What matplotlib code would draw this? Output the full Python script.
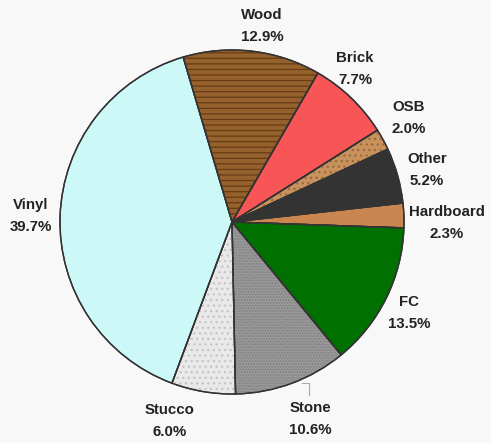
import matplotlib
matplotlib.use("Agg")
import matplotlib.pyplot as plt

categories = ["Wood", "Brick", "OSB", "Other", "Hardboard", "FC", "Stone", "Stucco", "Vinyl"]
values = [12.9, 7.7, 2.0, 5.2, 2.3, 13.5, 10.6, 6.0, 39.7]
colors = ["#95612d", "#f85656", "#c8925e", "#333333", "#c98650", "#007000", "#9a9a9a", "#e9e9e9", "#ccf8f8"]
hatches = ["---", None, "...", None, None, None, "......", "...", None]
hatch_colors = ["#673c15", None, "#9a6a3c", None, None, None, "#808080", "#c4c4c4", None]
# label anchor positions in pixels (center of two-line label)
label_px = [(262, 26), (355, 69), (409, 118), (427, 170), (447, 223), (409, 313), (310, 419), (170, 421), (31, 216)]

W, H = 491, 443
cx, cy, r = 232, 222, 172
bg = "#f8f8f8"

plt.rcParams["hatch.linewidth"] = 0.9

fig = plt.figure(figsize=(W / 100, H / 100), dpi=100, facecolor=bg)
ax = fig.add_axes([(cx - r) / W, (H - cy - r) / H, 2 * r / W, 2 * r / H])
ax.set_facecolor(bg)

start = 106.5
wedges, _ = ax.pie(values, colors=colors, startangle=start, counterclock=False, radius=1,
                   wedgeprops=dict(edgecolor="#333333", linewidth=1.0))

# texture overlays
wedges2, _ = ax.pie(values, colors=["none"] * len(values), startangle=start, counterclock=False, radius=1,
                    wedgeprops=dict(linewidth=0))
for w, h, hc in zip(wedges2, hatches, hatch_colors):
    if h:
        w.set_hatch(h)
        w.set_edgecolor(hc)
        w.set_linewidth(0)
    else:
        w.set_visible(False)

# outline on top
wedges3, _ = ax.pie(values, colors=["none"] * len(values), startangle=start, counterclock=False, radius=1,
                    wedgeprops=dict(edgecolor="#333333", linewidth=1.0, fill=False))

ax.set_xlim(-1, 1)
ax.set_ylim(-1, 1)
ax.set_aspect("equal", adjustable="box")
ax.axis("off")

for name, v, (px, py) in zip(categories, values, label_px):
    ax.text((px - cx) / r, (cy - py) / r, f"{name}\n{v:.1f}%", ha="center", va="center",
            fontsize=10.8, fontweight="bold", family="Liberation Sans", color="#222222",
            linespacing=1.65, clip_on=False)

# small leader for Stone
ax.plot([(302 - cx) / r, (309 - cx) / r, (309 - cx) / r], [(cy - 383) / r, (cy - 383) / r, (cy - 395) / r],
        color="#aaaaaa", lw=0.8, clip_on=False)

fig.savefig("out.png", dpi=100, facecolor=bg)
